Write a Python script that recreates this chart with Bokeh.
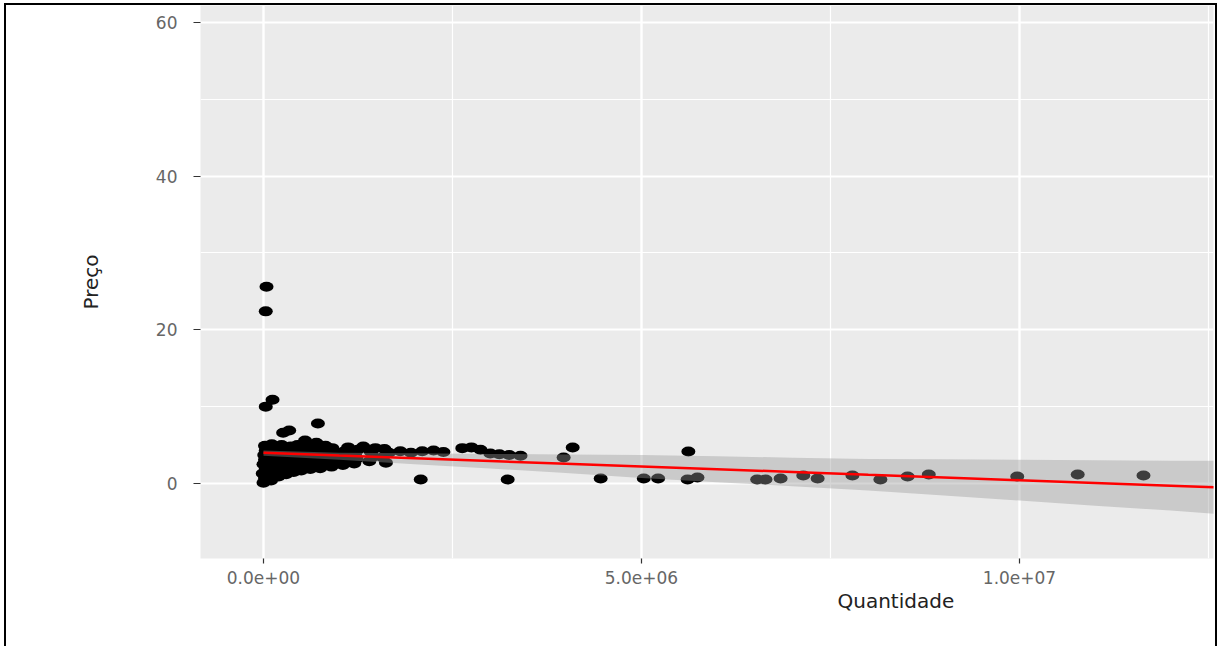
from bokeh.plotting import figure
from bokeh.models import Range1d, FixedTicker, Title, ColumnDataSource
from bokeh.embed import file_html
from bokeh.resources import INLINE

# ---- data ----
qty = [40000, 30000, 120000, 30000, 720000, 260000, 340000, 550000, 700000,
       0, 20000, -10000, 30000, 0, 20000, 10000, 30000, 20000,
       100000, 120000, 90000, 110000, 130000, 100000, 120000, 140000, 110000,
       200000, 220000, 190000, 210000, 230000, 200000, 220000, 240000,
       300000, 320000, 290000, 310000, 330000, 300000, 360000,
       400000, 420000, 390000, 410000, 430000, 400000, 450000,
       500000, 520000, 490000, 510000, 530000, 560000,
       620000, 600000, 630000, 610000, 640000, 660000,
       750000, 770000, 740000, 780000, 760000, 820000,
       900000, 920000, 890000, 930000, 910000,
       1050000, 1080000, 1040000, 1070000, 1120000,
       1200000, 1230000, 1210000, 1250000, 1320000,
       1400000, 1450000, 1420000, 1480000,
       1620000, 1580000, 1660000, 1600000,
       1810000, 1950000, 2100000, 2250000, 2380000,
       2630000, 2750000, 2870000,
       3000000, 3120000, 3250000, 3400000,
       2080000, 3230000, 3970000, 4090000, 4460000, 5030000, 5220000, 5620000,
       5610000, 5740000, 6530000, 6640000, 6840000, 7140000, 7330000, 7790000,
       8160000, 8520000, 8800000, 9970000, 10770000, 11640000]
preco = [25.6, 22.4, 10.9, 10.0, 7.8, 6.6, 6.9, 5.6, 5.3,
         0.1, 0.7, 1.3, 1.9, 2.5, 3.1, 3.7, 4.3, 4.9,
         0.4, 1.0, 1.6, 2.2, 2.8, 3.4, 4.0, 4.6, 5.1,
         0.9, 1.5, 2.1, 2.7, 3.3, 3.9, 4.5, 5.0,
         1.2, 1.8, 2.4, 3.0, 3.6, 4.2, 4.8,
         1.5, 2.0, 2.6, 3.2, 3.8, 4.4, 5.0,
         1.7, 2.3, 2.9, 3.5, 4.1, 4.6,
         1.9, 2.5, 3.1, 3.7, 4.3, 4.8,
         2.0, 2.6, 3.2, 3.8, 4.4, 4.9,
         2.2, 2.8, 3.4, 4.0, 4.6,
         2.4, 3.0, 3.6, 4.2, 4.7,
         2.6, 3.2, 3.8, 4.4, 4.8,
         2.9, 3.5, 4.1, 4.6,
         2.7, 3.4, 4.0, 4.5,
         4.2, 4.0, 4.2, 4.3, 4.1,
         4.6, 4.7, 4.4,
         3.9, 3.8, 3.7, 3.6,
         0.52, 0.52, 3.38, 4.68, 0.65, 0.65, 0.65, 4.16,
         0.52, 0.78, 0.52, 0.52, 0.65, 1.04, 0.65, 1.04,
         0.52, 0.91, 1.17, 0.91, 1.17, 1.04]

# linear smoother (lm) with its confidence band
fit_x = [0, 1000000, 2000000, 3000000, 4000000, 5000000, 6000000, 7000000,
         8000000, 9000000, 10000000, 11000000, 12000000, 12600000]
fit_y = [4.0, 3.64, 3.29, 2.93, 2.57, 2.22, 1.86, 1.50, 1.14, 0.79, 0.43, 0.07, -0.28, -0.50]
fit_hi = [4.3, 3.99, 3.95, 3.85, 3.77, 3.72, 3.56, 3.35, 3.19, 3.14, 3.08, 3.02, 2.97, 2.95]
fit_lo = [3.6, 3.1, 2.5, 1.95, 1.35, 0.72, 0.16, -0.35, -0.91, -1.56, -2.22, -2.88, -3.53, -3.95]

x_ticks = [0, 5000000, 10000000]
x_tick_labels = ["0.0e+00", "5.0e+06", "1.0e+07"]
x_minor = [-2500000, 2500000, 7500000, 12500000]
y_ticks = [0, 20, 40, 60]
y_tick_labels = ["0", "20", "40", "60"]
y_minor = [-10, 10, 30, 50]

FONT = "DejaVu Sans"

p = figure(width=1221, height=646, output_backend="svg", toolbar_location=None,
           x_range=Range1d(-833000, 12566000), y_range=Range1d(-9.76, 62.2),
           min_border_left=200, min_border_right=8, min_border_top=5,
           min_border_bottom=88)
p.background_fill_color = "#EBEBEB"
p.border_fill_color = None
p.outline_line_color = None
p.styles = {"background-color": "white",
            "box-shadow": ("inset 4px 0 0 white, inset -4px 0 0 white, inset 0 3px 0 white, "
                           "inset 6px 0 0 black, inset -6px 0 0 black, inset 0 5px 0 black")}

src = ColumnDataSource(dict(qty=qty, preco=preco))
p.ellipse(x="qty", y="preco", width=14, height=10, width_units="screen",
          height_units="screen", fill_color="black", line_color=None, source=src)
p.varea(x=fit_x, y1=fit_lo, y2=fit_hi, fill_color="#999999", fill_alpha=0.4)
p.line(fit_x, fit_y, line_color="#FF0000", line_width=2.5)

p.xaxis.ticker = FixedTicker(ticks=x_ticks, minor_ticks=x_minor)
p.yaxis.ticker = FixedTicker(ticks=y_ticks, minor_ticks=y_minor)
p.xaxis.major_label_overrides = {t: l for t, l in zip(x_ticks, x_tick_labels)}
p.yaxis.major_label_overrides = {t: l for t, l in zip(y_ticks, y_tick_labels)}

p.xgrid.grid_line_color = "white"
p.xgrid.grid_line_width = 2.4
p.xgrid.minor_grid_line_color = "white"
p.xgrid.minor_grid_line_width = 1.2
p.ygrid.grid_line_color = "white"
p.ygrid.grid_line_width = 1.8
p.ygrid.minor_grid_line_color = "white"
p.ygrid.minor_grid_line_width = 1.0

for ax in (p.xaxis, p.yaxis):
    ax.axis_line_color = None
    ax.major_tick_line_color = "#333333"
    ax.major_tick_line_width = 1.2
    ax.major_tick_in = 0
    ax.minor_tick_line_color = None
    ax.major_label_text_color = "#666666"
    ax.major_label_text_font = FONT
    ax.major_label_text_font_size = "17px"

p.xaxis.major_tick_out = 5
p.xaxis.major_label_standoff = 7
p.yaxis.major_tick_out = 7
p.yaxis.major_label_standoff = 16

p.yaxis.axis_label = "Preço"
p.yaxis.axis_label_text_font = FONT
p.yaxis.axis_label_text_font_size = "20px"
p.yaxis.axis_label_text_font_style = "normal"
p.yaxis.axis_label_text_color = "#222222"
p.yaxis.axis_label_standoff = 50

p.add_layout(Title(text="Quantidade", align="left", offset=637, standoff=0,
                   text_font=FONT, text_font_size="20px", text_font_style="normal",
                   text_color="#222222"), "below")

open("out.html", "w").write(file_html(p, INLINE))
